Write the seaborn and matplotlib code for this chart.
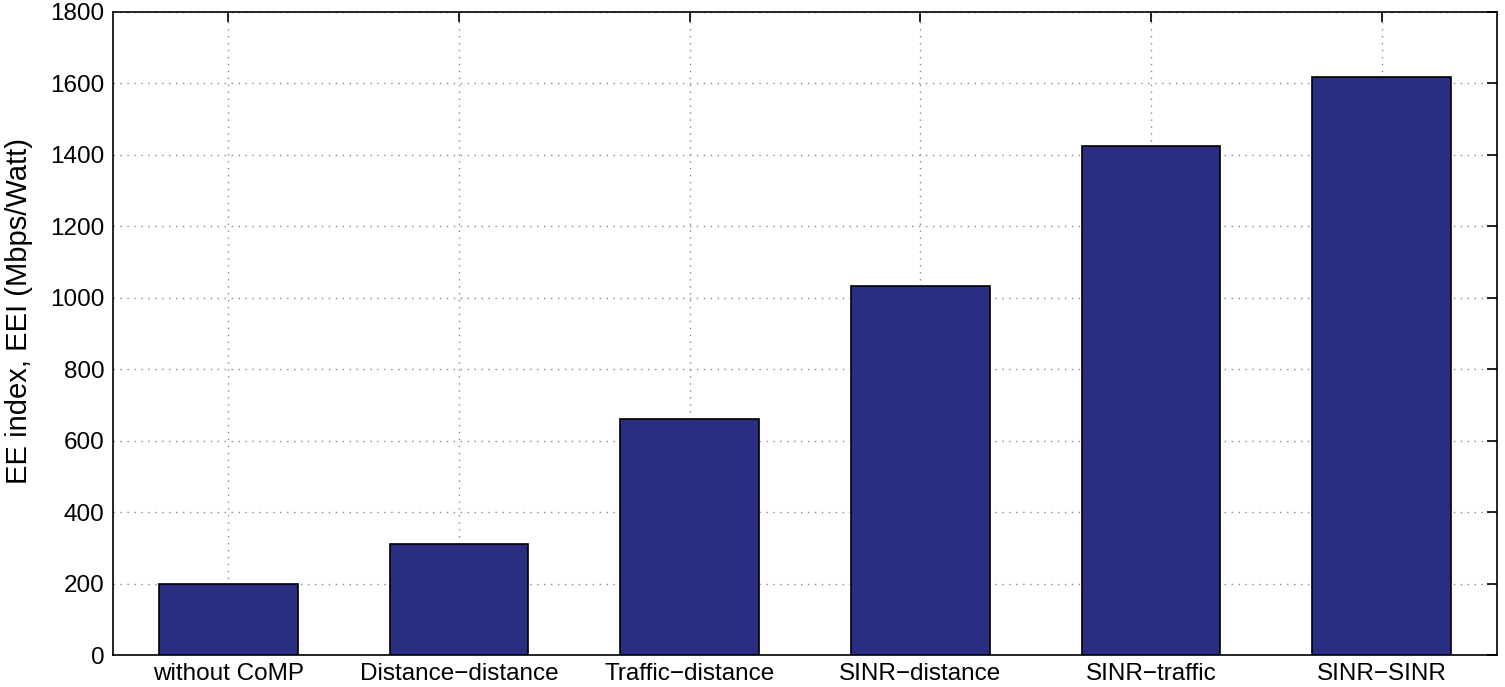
import matplotlib
matplotlib.use("Agg")
import matplotlib.pyplot as plt
import seaborn as sns
import pandas as pd

schemes = ["without CoMP", "Distance\u2212distance", "Traffic\u2212distance",
           "SINR\u2212distance", "SINR\u2212traffic", "SINR\u2212SINR"]
eei = [198, 310, 662, 1034, 1424, 1618]
yticks = [0, 200, 400, 600, 800, 1000, 1200, 1400, 1600, 1800]

df = pd.DataFrame({"scheme": schemes, "eei": eei})

sns.set_style("white")
plt.rcParams["font.family"] = ["Liberation Sans", "DejaVu Sans"]

fig = plt.figure(figsize=(15.05, 6.87), dpi=100)
ax = fig.add_axes([113 / 1505, 32 / 687, 1384 / 1505, 643 / 687])

sns.barplot(data=df, x="scheme", y="eei", color="#2a2e82", saturation=1,
            width=0.6, edgecolor="black", linewidth=1.2, ax=ax, zorder=3)

ax.set_xlim(-0.5, 5.5)
ax.set_ylim(0, 1800)
ax.set_yticks(yticks)
ax.set_xlabel("")
ax.set_ylabel("EE index, EEI (Mbps/Watt)", fontsize=21, color="black")
ax.yaxis.set_label_coords(-0.058, 0.535)
ax.grid(True, linestyle=(0, (1, 4)), color="#888888", linewidth=1.0, zorder=0)
ax.set_axisbelow(True)
ax.tick_params(direction="in", length=7, width=1.2, top=True, right=True,
               colors="black", pad=6)
ax.tick_params(axis="x", labelsize=17.5)
ax.tick_params(axis="y", labelsize=17.5)
for s in ax.spines.values():
    s.set_visible(True)
    s.set_color("black")
    s.set_linewidth(1.2)

fig.savefig("out.png", dpi=100)
